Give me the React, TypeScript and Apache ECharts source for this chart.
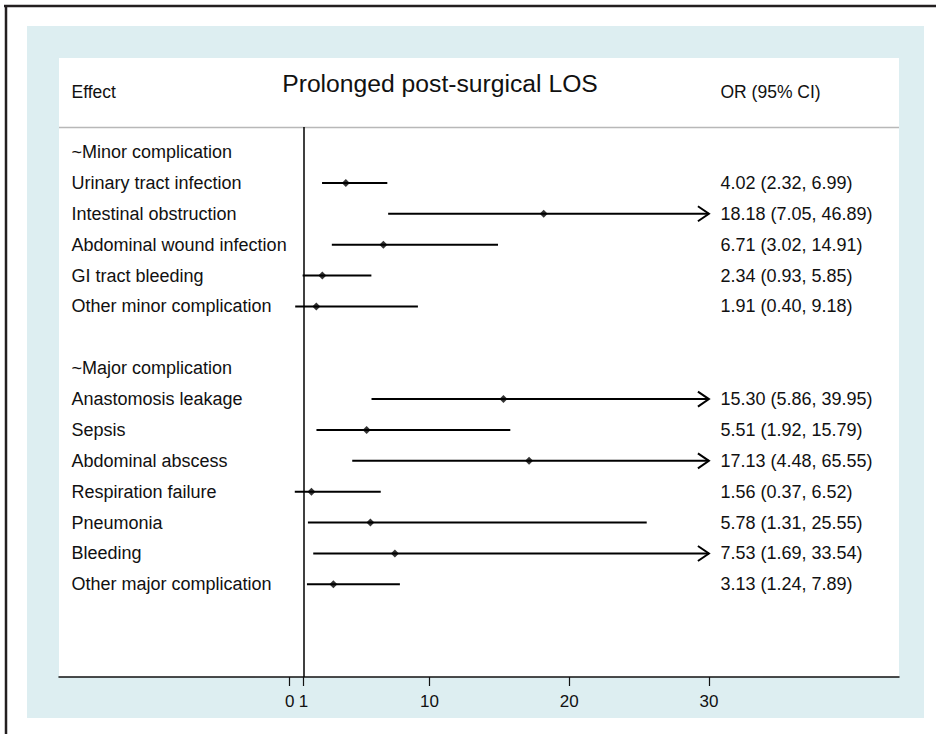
import React, { useEffect, useRef } from "react";
import * as echarts from "echarts";

// ---- data ----
const rowLabels: string[] = [
  "~Minor complication",
  "Urinary tract infection",
  "Intestinal obstruction",
  "Abdominal wound infection",
  "GI tract bleeding",
  "Other minor complication",
  "",
  "~Major complication",
  "Anastomosis leakage",
  "Sepsis",
  "Abdominal abscess",
  "Respiration failure",
  "Pneumonia",
  "Bleeding",
  "Other major complication",
];
const orValues: (number | null)[] = [null, 4.02, 18.18, 6.71, 2.34, 1.91, null, null, 15.3, 5.51, 17.13, 1.56, 5.78, 7.53, 3.13];
const ciLower: (number | null)[] = [null, 2.32, 7.05, 3.02, 0.93, 0.4, null, null, 5.86, 1.92, 4.48, 0.37, 1.31, 1.69, 1.24];
const ciUpper: (number | null)[] = [null, 6.99, 46.89, 14.91, 5.85, 9.18, null, null, 39.95, 15.79, 65.55, 6.52, 25.55, 33.54, 7.89];
const tickValues: number[] = [0, 1, 10, 20, 30];
const referenceValue = 1;
const titleText = "Prolonged post-surgical LOS";
const leftHeader = "Effect";
const rightHeader = "OR (95% CI)";

const FONT = "'Liberation Sans', Arial, Helvetica, sans-serif";

export default function App() {
  const ref = useRef<HTMLDivElement>(null);
  useEffect(() => {
    if (!ref.current) return;
    const chart = echarts.init(ref.current, null, { renderer: "svg" });
    const X_MIN = -16.5;
    const X_MAX = 43.6;
    const CAP = tickValues[tickValues.length - 1];

    const ciData: number[][] = [];
    const pointData: number[][] = [];
    const valueRows: number[] = [];
    orValues.forEach((v, i) => {
      if (v != null && ciLower[i] != null && ciUpper[i] != null) {
        ciData.push([ciLower[i] as number, ciUpper[i] as number, i]);
        pointData.push([v, i]);
        valueRows.push(i);
      }
    });
    const labelRows = rowLabels.map((_, i) => i).filter((i) => rowLabels[i] !== "");

    const option: any = {
      animation: false,
      backgroundColor: "#ffffff",
      grid: { left: 59, right: 37, top: 127, bottom: 57, outerBoundsMode: "none", containLabel: false },
      xAxis: {
        type: "value",
        min: X_MIN,
        max: X_MAX,
        splitLine: { show: false },
        axisLine: { show: true, onZero: false, lineStyle: { color: "#111", width: 1.5 } },
        axisTick: { show: true, customValues: tickValues, length: 9, lineStyle: { color: "#111", width: 1.2 } },
        axisLabel: {
          show: true,
          customValues: tickValues,
          margin: 16,
          fontSize: 17,
          color: "#111",
          fontFamily: FONT,
        },
      },
      yAxis: {
        type: "value",
        inverse: true,
        min: -0.81,
        max: 17,
        show: false,
      },
      graphic: [
        { type: "rect", z: -30, shape: { x: 27, y: 26, width: 897, height: 692 }, style: { fill: "#ddeef1" }, silent: true },
        { type: "rect", z: -20, shape: { x: 59, y: 58, width: 840, height: 619 }, style: { fill: "#ffffff" }, silent: true },
        { type: "line", z: -10, shape: { x1: 59, y1: 127.5, x2: 899, y2: 127.5 }, style: { stroke: "#b8b8b8", lineWidth: 1.5 }, silent: true },
        { type: "line", z: 10, shape: { x1: 4, y1: 6, x2: 936, y2: 6 }, style: { stroke: "#231f20", lineWidth: 2.5 }, silent: true },
        { type: "line", z: 10, shape: { x1: 6, y1: 5, x2: 6, y2: 734 }, style: { stroke: "#231f20", lineWidth: 2.5 }, silent: true },
        {
          type: "text",
          x: 440,
          y: 83,
          style: { text: titleText, fontSize: 24.7, fontFamily: FONT, fill: "#111", align: "center", verticalAlign: "middle" },
        },
        {
          type: "text",
          x: 71.5,
          y: 92,
          style: { text: leftHeader, fontSize: 17.5, fontFamily: FONT, fill: "#111", align: "left", verticalAlign: "middle" },
        },
        {
          type: "text",
          x: 720.5,
          y: 92,
          style: { text: rightHeader, fontSize: 17.5, fontFamily: FONT, fill: "#111", align: "left", verticalAlign: "middle" },
        },
      ],
      series: [
        {
          name: "CI",
          type: "custom",
          data: ciData,
          encode: { x: [0, 1], y: 2 },
          clip: false,
          renderItem: (params: any, api: any) => {
            const lo = api.value(0);
            const hi = api.value(1);
            const row = api.value(2);
            const s = api.coord([lo, row]);
            const e = api.coord([Math.min(hi, CAP), row]);
            const children: any[] = [
              { type: "line", shape: { x1: s[0], y1: s[1], x2: e[0], y2: e[1] }, style: { stroke: "#000", lineWidth: 2 } },
            ];
            if (hi > CAP) {
              children.push({
                type: "polyline",
                shape: { points: [[e[0] - 11, e[1] - 7.5], [e[0], e[1]], [e[0] - 11, e[1] + 7.5]] },
                style: { stroke: "#000", lineWidth: 2, fill: "none" },
              });
            }
            return { type: "group", children };
          },
          markLine: {
            silent: true,
            symbol: ["none", "none"],
            label: { show: false },
            lineStyle: { color: "#000", width: 1.5, type: "solid" },
            data: [{ xAxis: referenceValue }],
          },
        },
        {
          name: "OR",
          type: "scatter",
          data: pointData,
          symbol: "diamond",
          symbolSize: 8,
          itemStyle: { color: "#000" },
          z: 5,
        },
        {
          name: "labels",
          type: "custom",
          data: labelRows.map((i) => [X_MIN, i]),
          encode: { x: 0, y: 1 },
          clip: false,
          renderItem: (params: any, api: any) => {
            const row = api.value(1);
            const p = api.coord([api.value(0), row]);
            return {
              type: "text",
              x: p[0] + 12.5,
              y: p[1],
              style: {
                text: rowLabels[row],
                fontSize: 18,
                fontFamily: FONT,
                fill: "#111",
                align: "left",
                verticalAlign: "middle",
              },
            };
          },
        },
        {
          name: "values",
          type: "custom",
          data: valueRows.map((i) => [CAP, i]),
          encode: { x: 0, y: 1 },
          clip: false,
          renderItem: (params: any, api: any) => {
            const row = api.value(1);
            const p = api.coord([api.value(0), row]);
            const txt = `${(orValues[row] as number).toFixed(2)} (${(ciLower[row] as number).toFixed(2)}, ${(ciUpper[row] as number).toFixed(2)})`;
            return {
              type: "text",
              x: p[0] + 11.5,
              y: p[1],
              style: {
                text: txt,
                fontSize: 18,
                fontFamily: FONT,
                fill: "#111",
                align: "left",
                verticalAlign: "middle",
              },
            };
          },
        },
      ],
    };
    chart.setOption(option);
    return () => chart.dispose();
  }, []);
  return (
    <div
      ref={ref}
      style={{ position: "fixed", left: 0, top: 0, width: 936, height: 734 }}
    />
  );
}
